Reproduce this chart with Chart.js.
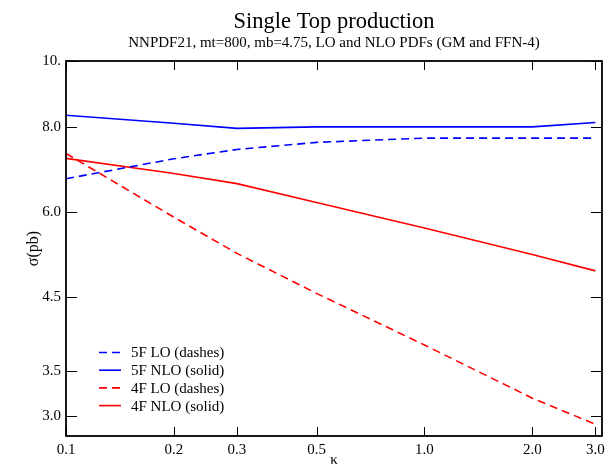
<!DOCTYPE html>
<html><head><meta charset="utf-8">
<script src="https://cdn.jsdelivr.net/npm/chart.js@4"></script>
<style>html,body{margin:0;padding:0;background:#fff}#wrap{width:612px;height:468px}</style>
</head><body><div id="wrap"><canvas id="c" width="612" height="468"></canvas></div>
<script>
// ---- data ----
const kappa = [0.1, 0.2, 0.3, 0.5, 1.0, 2.0, 3.0];
const lo5F  = [6.71, 7.18, 7.41, 7.59, 7.70, 7.70, 7.70];
const nlo5F = [8.32, 8.10, 7.96, 8.00, 8.00, 8.00, 8.12];
const lo4F  = [7.31, 5.89, 5.21, 4.55, 3.82, 3.19, 2.92];
const nlo4F = [7.19, 6.83, 6.60, 6.19, 5.68, 5.19, 4.91];
const seriesNames = ['5F LO (dashes)', '5F NLO (solid)', '4F LO (dashes)', '4F NLO (solid)'];
const xTickValues = [0.1, 0.2, 0.3, 0.5, 1.0, 2.0, 3.0];
const xTickLabels = ['0.1', '0.2', '0.3', '0.5', '1.0', '2.0', '3.0'];
const yTickValues = [3.0, 3.5, 4.5, 6.0, 8.0, 10];
const yTickLabels = ['3.0', '3.5', '4.5', '6.0', '8.0', '10.'];
const titleText = 'Single Top production';
const subtitleText = 'NNPDF21, mt=800, mb=4.75, LO and NLO PDFs (GM and FFN-4)';

const FONT = "'Liberation Serif', 'Times New Roman', serif";
const pts = arr => kappa.map((k, i) => ({x: k, y: arr[i]}));

function ds(label, arr, color, dash) {
  return {label, data: pts(arr), borderColor: color, backgroundColor: color,
    borderWidth: 1.6, borderDash: dash, pointRadius: 0, tension: 0, fill: false};
}

const decor = {
  id: 'decor',
  afterDraw(chart) {
    const {ctx, chartArea: a, scales: {x, y}} = chart;
    ctx.save();
    ctx.strokeStyle = '#000';
    ctx.lineWidth = 1;
    ctx.beginPath();
    xTickValues.forEach(v => {
      const px = Math.round(x.getPixelForValue(v)) + 0.5;
      ctx.moveTo(px, a.bottom); ctx.lineTo(px, a.bottom - 9);
      ctx.moveTo(px, a.top); ctx.lineTo(px, a.top + 9);
    });
    yTickValues.forEach(v => {
      const py = Math.round(y.getPixelForValue(v)) + 0.5;
      ctx.moveTo(a.left, py); ctx.lineTo(a.left + 11, py);
      ctx.moveTo(a.right, py); ctx.lineTo(a.right - 11, py);
    });
    ctx.stroke();
    ctx.lineWidth = 1.8;
    ctx.strokeRect(a.left, a.top, a.right - a.left, a.bottom - a.top);

    // titles
    const cx = (a.left + a.right) / 2;
    ctx.fillStyle = '#000';
    ctx.textAlign = 'center';
    ctx.textBaseline = 'alphabetic';
    ctx.font = '22.5px ' + FONT;
    ctx.fillText(titleText, cx, 28);
    ctx.font = '15px ' + FONT;
    ctx.fillText(subtitleText, cx, 47);

    // legend
    ctx.font = '15px ' + FONT;
    ctx.textAlign = 'left';
    ctx.textBaseline = 'middle';
    chart.data.datasets.forEach((d, i) => {
      const ly = 352.5 + i * 17.7;
      ctx.strokeStyle = d.borderColor;
      ctx.lineWidth = d.borderWidth;
      ctx.setLineDash(d.borderDash || []);
      ctx.beginPath(); ctx.moveTo(99, ly); ctx.lineTo(121, ly); ctx.stroke();
      ctx.setLineDash([]);
      ctx.fillStyle = '#000';
      ctx.fillText(d.label, 131, ly + 1);
    });
    ctx.restore();
  }
};

new Chart(document.getElementById('c'), {
  type: 'line',
  data: {
    datasets: [
      ds(seriesNames[0], lo5F, '#0000ff', [8, 5]),
      ds(seriesNames[1], nlo5F, '#0000ff', []),
      ds(seriesNames[2], lo4F, '#ff0000', [8, 5]),
      ds(seriesNames[3], nlo4F, '#ff0000', [])
    ]
  },
  options: {
    responsive: false,
    devicePixelRatio: 1,
    animation: false,
    layout: {padding: {top: 61, right: 10, left: 0, bottom: 0}},
    plugins: {legend: {display: false}, title: {display: false}, tooltip: {enabled: false}},
    scales: {
      x: {
        type: 'logarithmic', min: 0.1, max: 3.13,
        grid: {display: false, drawTicks: false}, border: {display: false},
        afterBuildTicks: s => { s.ticks = xTickValues.map(v => ({value: v})); },
        afterFit: s => { s.height = 32; s.paddingLeft = 0; s.paddingRight = 0; },
        ticks: {autoSkip: false, maxRotation: 0, padding: 5, color: '#000',
          font: {family: FONT, size: 15}, callback: (v, i) => xTickLabels[i]},
        title: {display: true, text: 'κ', color: '#000', font: {family: FONT, size: 15, lineHeight: 1.0}, padding: {top: 0, bottom: 0}}
      },
      y: {
        type: 'logarithmic', min: 2.806, max: 10,
        grid: {display: false, drawTicks: false}, border: {display: false},
        afterBuildTicks: s => { s.ticks = yTickValues.map(v => ({value: v})); },
        afterFit: s => { s.width = 66; s.paddingTop = 0; s.paddingBottom = 0; },
        ticks: {autoSkip: false, padding: 5, color: '#000',
          font: {family: FONT, size: 15}, callback: (v, i) => yTickLabels[i]},
        title: {display: true, text: 'σ(pb)', color: '#000', font: {family: FONT, size: 16}, padding: {top: 24, bottom: 0}}
      }
    }
  },
  plugins: [decor]
});
</script>
</body></html>
